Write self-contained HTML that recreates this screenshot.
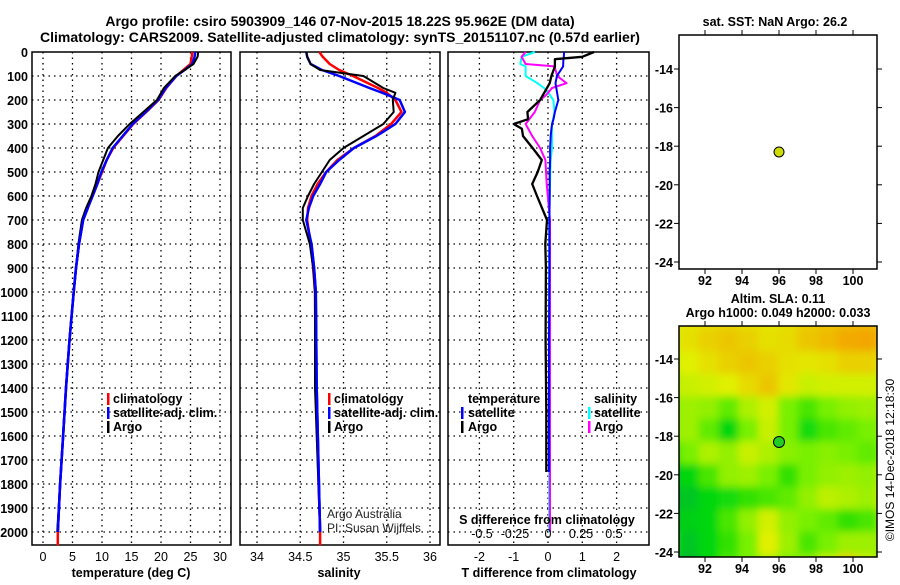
<!DOCTYPE html>
<html><head><meta charset="utf-8"><style>
body{margin:0;background:#fff;}
svg text{font-family:"Liberation Sans",sans-serif;}
</style></head><body>
<svg id="c" width="900" height="580" xmlns="http://www.w3.org/2000/svg"></svg>
<script>
// ---------- data ----------
const tempDepths = [0,20,50,75,100,150,200,250,300,350,400,450,500,550,600,650,700,800,900,1000,1200,1400,1600,1800,2000];
const tempArgo = [26.3,26.2,25.5,24.0,22.4,20.5,19.3,17.0,14.7,12.7,11.0,10.2,9.4,8.9,8.2,7.3,6.6,6.0,5.6,5.2,4.5,3.9,3.4,2.9,2.4];
const tempClim = [25.3,25.2,25.0,23.8,22.6,20.9,19.6,17.5,15.3,13.6,11.9,10.8,10.0,9.2,8.4,7.5,6.8,6.1,5.6,5.2,4.5,3.9,3.4,2.9,2.5];
const tempSat = [25.8,25.7,25.3,24.0,22.6,20.8,19.5,17.4,15.2,13.5,11.8,10.8,9.9,9.2,8.4,7.6,6.8,6.1,5.6,5.2,4.5,3.9,3.4,2.9,2.5];
const salDepths = [0,20,50,75,100,150,170,200,250,300,350,400,450,500,550,600,650,700,800,900,1000,1400,2000];
const salArgo = [34.57,34.58,34.62,34.73,35.23,35.46,35.6,35.57,35.58,35.46,35.23,35.0,34.84,34.75,34.66,34.59,34.53,34.53,34.61,34.65,34.67,34.67,34.73];
const salClim = [34.72,34.76,34.84,34.95,35.11,35.4,35.5,35.6,35.67,35.55,35.37,35.12,34.93,34.8,34.7,34.63,34.59,34.58,34.62,34.65,34.67,34.68,34.73];
const salSat = [34.57,34.58,34.62,34.75,34.95,35.3,35.45,35.65,35.71,35.6,35.38,35.12,34.95,34.8,34.73,34.65,34.6,34.57,34.63,34.66,34.68,34.69,34.73];
const dTDepths = [0,20,30,60,100,130,200,250,280,300,320,350,400,450,500,550,600,700,800,900,1200,1500,1750];
const dTArgo = [1.34,1.0,0.2,0.2,0.1,0.05,-0.23,-0.6,-0.58,-1.0,-0.76,-0.73,-0.45,-0.18,-0.3,-0.46,-0.32,-0.03,-0.08,-0.06,-0.07,-0.05,-0.05];
const dTSat = [0.47,0.46,0.45,0.44,0.26,0.22,0.3,0.2,0.16,0.12,0.1,0.08,0.06,0.06,0.05,0.05,0.05,0.04,0.04,0.04,0.03,0.03,0.03];
const dSDepths = [0,20,50,60,100,130,150,180,200,250,300,350,400,450,550,700,1000,1500,2000];
const dSArgo = [-0.17,-0.2,-0.17,0.05,0.07,0.14,0.03,-0.015,-0.06,-0.1,-0.17,-0.12,-0.06,-0.02,-0.01,0.015,0.015,0.015,0.015];
const dSSat = [-0.1,-0.2,-0.21,-0.17,-0.17,-0.08,-0.03,0.015,0.04,0.05,0.03,0.03,0.03,0.02,0.015,0.01,0.008,0.008,0.008];
const depthTicks = [0,100,200,300,400,500,600,700,800,900,1000,1100,1200,1300,1400,1500,1600,1700,1800,1900,2000];
const tempTicks = [0,5,10,15,20,25,30];
const salTicks = [34,34.5,35,35.5,36];
const dTTicks = [-2,-1,0,1,2];
const dSTicks = [-0.5,-0.25,0,0.25,0.5];
const dSTickLabels = ["-0.5","-0.25","0","0.25","0.5"];
const latTicks = [-14,-16,-18,-20,-22,-24];
const lonTicks = [92,94,96,98,100];
const argoLon = 96, argoLat = -18.3;
const slaGrid = [
[0.75,0.78,0.8,0.82,0.8,0.78,0.8,0.85,0.88,0.9,0.9,0.85],
[0.72,0.8,0.85,0.88,0.85,0.8,0.82,0.88,0.92,0.97,0.98,0.88],
[0.7,0.75,0.8,0.85,0.88,0.85,0.8,0.78,0.8,0.85,0.85,0.78],
[0.65,0.7,0.72,0.75,0.82,0.88,0.78,0.7,0.72,0.72,0.72,0.7],
[0.6,0.62,0.6,0.5,0.65,0.72,0.55,0.45,0.55,0.6,0.62,0.6],
[0.6,0.62,0.5,0.3,0.55,0.7,0.55,0.35,0.45,0.5,0.55,0.58],
[0.35,0.55,0.65,0.6,0.7,0.65,0.58,0.55,0.58,0.55,0.5,0.55],
[0.2,0.3,0.45,0.6,0.62,0.55,0.4,0.55,0.6,0.62,0.6,0.68],
[0.15,0.2,0.3,0.35,0.4,0.45,0.5,0.6,0.68,0.65,0.62,0.7],
[0.2,0.25,0.3,0.45,0.6,0.72,0.6,0.55,0.5,0.4,0.45,0.6],
[0.35,0.2,0.3,0.4,0.55,0.75,0.62,0.45,0.55,0.62,0.62,0.6],
[0.2,0.15,0.3,0.45,0.55,0.65,0.55,0.6,0.7,0.85,0.7,0.45]];

// ---------- helpers ----------
const NS="http://www.w3.org/2000/svg";
const svg=document.getElementById('c');
function el(tag,attrs,parent){const e=document.createElementNS(NS,tag);for(const k in attrs)e.setAttribute(k,attrs[k]);(parent||svg).appendChild(e);return e;}
function txt(x,y,s,attrs,parent){const t=el('text',Object.assign({x:x,y:y,'font-size':13,'font-weight':'bold',fill:'#000'},attrs||{}),parent);t.textContent=s;return t;}
const TOP=52,BOT=545;
const yD=d=>TOP+d*0.24;
const xT=v=>43+v*5.9;
const xS=v=>257+(v-34)*86.5;
const xdT=v=>548+v*34.3;
const xdS=v=>548+v*132;

function panel(name,x0,x1,gridXs){
  const g=el('g',{});
  
  
  depthTicks.forEach(d=>{if(d>0)el('line',{x1:x0,x2:x1,y1:yD(d),y2:yD(d),stroke:'#000','stroke-dasharray':'1.5,4','stroke-width':1.3},g);});
  gridXs.forEach(x=>el('line',{x1:x,x2:x,y1:TOP,y2:BOT,stroke:'#000','stroke-dasharray':'1.5,4','stroke-width':1.3},g));
  el('rect',{x:x0,y:TOP,width:x1-x0,height:BOT-TOP,fill:'none',stroke:'#000','stroke-width':1.5},g);
  return g;
}
function line(g,name,depths,vals,xf,color,w){
  const pts=depths.map((d,i)=>xf(vals[i]).toFixed(1)+','+yD(d).toFixed(1)).join(' ');
  const p=el('polyline',{points:pts,fill:'none',stroke:color,'stroke-width':w||2.5,'stroke-linejoin':'round'},g);
  
  
}

// titles
const t1=txt(340,26,'Argo profile: csiro 5903909_146 07-Nov-2015 18.22S 95.962E (DM data)',{'text-anchor':'middle','font-size':14});


const t2=txt(340,42,'Climatology: CARS2009. Satellite-adjusted climatology: synTS_20151107.nc (0.57d earlier)',{'text-anchor':'middle','font-size':14});



// depth labels
depthTicks.forEach(d=>{const t=txt(28,yD(d)+5,String(d),{'text-anchor':'end','font-size':12.5});

});

// panel 1
const p1=panel('temperature-panel',32,231,tempTicks.map(xT));
line(p1,'temp-climatology-line',tempDepths.concat([2055]),tempClim.concat([2.5]),xT,'#f00');
line(p1,'temp-satellite-line',tempDepths,tempSat,xT,'#00f');
line(p1,'temp-argo-line',tempDepths,tempArgo,xT,'#000',2);
line(p1,'temp-satellite-line-top',tempDepths.slice(15),tempSat.slice(15),xT,'#00f');
tempTicks.forEach(v=>txt(xT(v),561,String(v),{'text-anchor':'middle','font-size':12.5,'font-weight':'normal'},p1));
txt(131,577,'temperature (deg C)',{'text-anchor':'middle','font-size':12.5},p1);
function legend(g,x,y,items){items.forEach((it,i)=>{el('rect',{x:x,y:y+i*14-10,width:2.5,height:12,fill:it[1]},g);const t=txt(x+6,y+i*14,it[0],{'font-size':12.5},g);

});}
legend(p1,107,403,[['climatology','#f00'],['satellite-adj. clim.','#00f'],['Argo','#000']]);

// panel 2
const p2=panel('salinity-panel',240,440,salTicks.map(xS));
line(p2,'sal-climatology-line',salDepths.concat([2055]),salClim.concat([34.73]),xS,'#f00');
line(p2,'sal-satellite-line',salDepths,salSat,xS,'#00f');
line(p2,'sal-argo-line',salDepths,salArgo,xS,'#000',2);
line(p2,'sal-satellite-line-deep',salDepths.slice(18),salSat.slice(18),xS,'#00f');
salTicks.forEach(v=>txt(xS(v),561,String(v),{'text-anchor':'middle','font-size':12.5,'font-weight':'normal'},p2));
txt(339,577,'salinity',{'text-anchor':'middle','font-size':12.5},p2);
legend(p2,328,403,[['climatology','#f00'],['satellite-adj. clim.','#00f'],['Argo','#000']]);
txt(327,518,'Argo Australia',{'font-size':12,'font-weight':'normal',fill:'#222'},p2);
txt(327,532,'PI: Susan Wijffels',{'font-size':12,'font-weight':'normal',fill:'#222'},p2);

// panel 3
const p3=panel('difference-panel',448,649,dTTicks.map(xdT));
line(p3,'dS-satellite-line',dSDepths,dSSat,xdS,'#0ff',2);
line(p3,'dS-argo-line',dSDepths,dSArgo,xdS,'#f0f',2);
line(p3,'dT-satellite-line',dTDepths,dTSat,xdT,'#00f',2);
line(p3,'dT-argo-line',dTDepths,dTArgo,xdT,'#000',2.3);
dTTicks.forEach(v=>txt(xdT(v),561,String(v),{'text-anchor':'middle','font-size':12.5,'font-weight':'normal'},p3));
dSTicks.forEach((v,i)=>txt(xdS(v),538,dSTickLabels[i],{'text-anchor':'middle','font-size':12.5,'font-weight':'normal'},p3));
txt(547,524,'S difference from climatology',{'text-anchor':'middle','font-size':12.5},p3);
txt(549,577,'T difference from climatology',{'text-anchor':'middle','font-size':12.5},p3);
txt(468,403,'temperature',{'font-size':12.5},p3);
txt(594,403,'salinity',{'font-size':12.5},p3);
el('rect',{x:461,y:407,width:2.5,height:12,fill:'#00f'},p3);txt(468,417,'satellite',{'font-size':12.5},p3);
el('rect',{x:461,y:421,width:2.5,height:12,fill:'#000'},p3);txt(468,431,'Argo',{'font-size':12.5},p3);
el('rect',{x:588,y:407,width:2.5,height:12,fill:'#0ff'},p3);txt(594,417,'satellite',{'font-size':12.5},p3);
el('rect',{x:588,y:421,width:2.5,height:12,fill:'#f0f'},p3);txt(594,431,'Argo',{'font-size':12.5},p3);

// maps
const MX0=679,MX1=877;
const xLon=v=>705+(v-92)*18.5;
function mapAxes(g,y0,y1,lat14){
  const yL=v=>lat14+(-14-v)*19.3;
  el('rect',{x:MX0,y:y0,width:MX1-MX0,height:y1-y0,fill:'none',stroke:'#000','stroke-width':1.5},g);
  latTicks.forEach(v=>{el('line',{x1:MX0-5,x2:MX0,y1:yL(v),y2:yL(v),stroke:'#000'},g);el('line',{x1:MX1,x2:MX1+5,y1:yL(v),y2:yL(v),stroke:'#000'},g);
    txt(MX0-6,yL(v)+5,String(v),{'text-anchor':'end','font-size':12.5},g);});
  lonTicks.forEach(v=>{el('line',{x1:xLon(v),x2:xLon(v),y1:y0-5,y2:y0,stroke:'#000'},g);el('line',{x1:xLon(v),x2:xLon(v),y1:y1,y2:y1+5,stroke:'#000'},g);
    txt(xLon(v),y1+16,String(v),{'text-anchor':'middle','font-size':12.5},g);});
  return yL;
}
const m1=el('g',{});


txt(775,26,'sat. SST: NaN Argo: 26.2',{'text-anchor':'middle','font-size':12.5},m1);
const yL1=mapAxes(m1,35,269,69);
el('circle',{cx:xLon(argoLon),cy:yL1(argoLat),r:5,fill:'#ccdd00',stroke:'#000'},m1);

const m2=el('g',{});


txt(778,303,'Altim. SLA: 0.11',{'text-anchor':'middle','font-size':12.5},m2);
txt(778,317,'Argo h1000: 0.049 h2000: 0.033',{'text-anchor':'middle','font-size':12.5},m2);
const defs=el('defs',{});
const cp=el('clipPath',{id:'mc'},defs);el('rect',{x:MX0,y:326,width:MX1-MX0,height:231},cp);
const fl=el('filter',{id:'bl',x:'-10%',y:'-10%',width:'120%',height:'120%'},defs);el('feGaussianBlur',{stdDeviation:4},fl);
function col(v){const stops=[[0,[0,165,80]],[0.3,[0,215,10]],[0.55,[120,240,0]],[0.75,[225,240,0]],[1,[245,160,0]]];
  for(let i=1;i<stops.length;i++){if(v<=stops[i][0]){const a=stops[i-1],b=stops[i],t=(v-a[0])/(b[0]-a[0]);return 'rgb('+a[1].map((c,k)=>Math.round(c+(b[1][k]-c)*t)).join(',')+')';}}return 'rgb(245,160,0)';}
const hm=el('g',{'clip-path':'url(#mc)'},m2);
const hb=el('g',{filter:'url(#bl)'},hm);
const nR=slaGrid.length,nC=slaGrid[0].length;
const cw=(MX1-MX0+40)/nC,ch=(557-326+40)/nR;
slaGrid.forEach((row,r)=>row.forEach((v,c)=>{const rc=el('rect',{x:MX0-20+c*cw,y:306+r*ch,width:cw+1,height:ch+1,fill:col(v)},hb);

}));
const yL2=mapAxes(m2,326,557,359);
el('circle',{cx:xLon(argoLon),cy:yL2(argoLat),r:5.5,fill:'#22cc22',stroke:'#000'},m2);
const cr=txt(0,0,'©IMOS 14-Dec-2018 12:18:30',{'font-size':12,'font-weight':'normal','text-anchor':'middle',transform:'translate(894,460) rotate(-90)'});


</script>
</body></html>
